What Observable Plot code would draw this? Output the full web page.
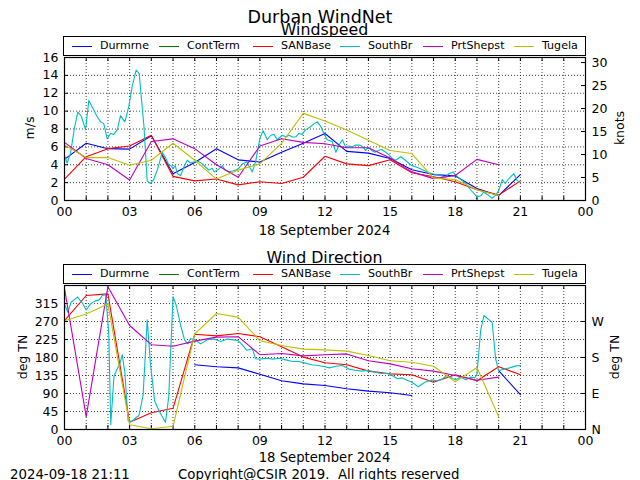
<!DOCTYPE html>
<html><head><meta charset="utf-8">
<script src="https://cdn.jsdelivr.net/npm/d3@7"></script>
<script src="https://cdn.jsdelivr.net/npm/@observablehq/plot@0.6"></script>
<style>
body{margin:0;background:#fff;font-family:"DejaVu Sans",sans-serif;}
#fig{position:relative;width:640px;height:480px;overflow:hidden;background:#fff;}
.abs{position:absolute;white-space:nowrap;color:#000;line-height:1;}
.title{font-size:15.8px;transform:translateX(-50%);}
.lab{font-size:12.5px;}
.rot{transform:translate(-50%,-50%) rotate(-90deg);}
.legend{position:absolute;border:1px solid #000;box-sizing:border-box;background:#fff;}
.lg-h{position:absolute;height:1px;width:20px;}
.lg-t{position:absolute;font-size:11.1px;line-height:1;white-space:nowrap;}
#fig svg{position:absolute;left:0;}
</style></head><body><div id="fig"></div><script>
// ---------- data ----------
const stations = ["Durmrne","ContTerm","SANBase","SouthBr","PrtShepst","Tugela"];
const stationColors = ["#0000ff","#008000","#ff0000","#00bfbf","#bf00bf","#bfbf00"];
const hourTicks = [0,3,6,9,12,15,18,21,24];
const hourTickLabels = ["00","03","06","09","12","15","18","21","00"];
const hourMinor = [0,1,2,3,4,5,6,7,8,9,10,11,12,13,14,15,16,17,18,19,20,21,22,23,24];
const speedTicks = [0,2,4,6,8,10,12,14,16];
const knotTicks = [0,5,10,15,20,25,30];
const dirTicks = [0,45,90,135,180,225,270,315];
const compassTicks = [0,90,180,270];
const compassLabels = ["N","E","S","W"];
const dateLabel = "18 September 2024";

// hourly readings (hour of day)
const hours = [0,1,2,3,4,5,6,7,8,9,10,11,12,13,14,15,16,17,18,19,20,21];
const durmrneSpeed = [4.6,6.4,5.8,5.75,7.25,3.0,4.25,5.8,4.55,4.3,5.4,6.4,7.5,5.5,5.3,4.7,3.45,2.9,2.75,1.35,0.55,2.9];
const contTermSpeed = [];
const sanBaseSpeed = [2.4,4.9,5.8,6.1,7.3,2.7,2.2,2.4,1.75,2.1,1.9,2.6,4.95,4.1,3.9,4.55,3.1,2.65,2.1,1.2,0.6,2.2];
const prtShepstSpeed = [6.5,4.7,4.0,2.3,6.6,6.9,5.8,4.0,2.6,6.1,6.9,6.5,6.35,5.9,5.9,4.75,3.2,2.45,2.8,4.6,4.0,null];
const tugelaSpeed = [6.2,4.8,4.8,3.95,4.5,6.4,4.5,2.4,3.4,4.1,6.4,9.75,8.9,7.9,6.75,5.6,5.25,2.5,2.35,1.2,0.55,null];

const durmrneDir = [null,null,null,null,null,null,162,157,154,138,122,114,110,102,96,92,85,null,null,null,147,87];
const contTermDir = [];
const sanBaseDir = [272,335,339,18,42,53,238,234,240,232,207,181,167,162,146,139,137,118,137,122,157,137];
const prtShepstDir = [352,32,357,260,212,208,221,231,232,187,190,184,187,189,172,164,152,146,135,123,131,null];
const tugelaDir = [272,289,314,12,2,8,239,290,281,222,210,201,199,196,185,172,168,158,119,155,32,null];

// SouthBr sub-hourly readings
const southBrSpeedTime = [0.0,0.12,0.28,0.45,0.61,0.78,0.97,1.12,1.27,1.5,1.66,1.81,1.97,2.12,2.27,2.43,2.58,2.78,2.96,3.12,3.3,3.44,3.66,3.81,3.96,4.12,4.27,4.38,4.5,4.65,4.8,4.9,5.0,5.1,5.2,5.35,5.5,5.65,5.8,5.95,6.15,6.35,6.5,6.65,6.8,6.9,7.1,7.27,7.4,7.57,7.75,7.9,8.0,8.2,8.4,8.65,8.8,9.0,9.15,9.34,9.5,9.65,9.8,10.03,10.2,10.35,10.5,10.65,10.8,10.95,11.1,11.3,11.5,11.65,11.8,11.95,12.1,12.33,12.5,12.65,12.8,12.95,13.1,13.26,13.4,13.6,13.75,13.87,14.0,14.15,14.3,14.45,14.6,14.8,14.95,15.1,15.25,15.5,15.7,16.0,16.2,16.4,16.7,16.95,17.25,17.55,17.7,17.9,18.0,18.2,18.5,18.6,18.8,19.0,19.2,19.3,19.55,19.7,19.85,20.0,20.17,20.3,20.45,20.7,20.85,21.0];
const southBrSpeed = [5.0,4.2,5.3,8.0,9.9,9.4,7.9,11.2,10.5,9.4,8.8,8.6,6.9,7.5,7.4,7.9,9.5,8.8,10.5,12.8,14.6,14.2,8.3,2.2,1.9,2.4,3.4,4.3,5.4,4.8,4.0,3.9,3.6,3.9,3.0,2.8,3.75,4.5,4.2,4.3,4.4,4.1,3.75,3.4,3.6,3.2,3.5,3.9,3.4,3.2,3.3,3.4,3.55,4.1,4.3,3.2,4.3,6.95,7.8,6.8,7.3,7.4,6.8,7.3,7.1,7.3,7.1,7.1,7.5,7.4,7.9,8.2,8.6,8.8,8.3,7.5,6.8,6.6,5.4,6.2,6.8,6.0,6.1,6.0,6.2,6.2,6.0,5.6,5.95,5.6,5.4,5.6,5.7,5.4,5.1,4.7,4.5,4.9,4.5,3.9,3.75,3.55,3.2,3.0,2.85,2.6,3.0,3.2,2.9,2.45,1.9,1.5,0.95,0.4,0.55,0.95,0.55,0.25,0.55,1.1,2.35,1.9,2.4,3.0,2.25,2.0];
const southBrDirTime = [0.0,0.15,0.3,0.6,0.8,1.0,1.2,1.4,1.6,1.74,1.9,2.04,2.13,2.28,2.43,2.55,2.66,2.78,2.93,3.1,3.3,3.43,3.62,3.81,3.96,4.15,4.35,4.65,4.8,5.0,5.15,5.35,5.53,5.68,5.8,6.0,6.27,6.6,6.9,7.2,7.5,7.8,8.0,8.2,8.4,8.65,8.8,9.0,9.3,9.6,9.9,10.2,10.5,10.8,11.1,11.4,11.7,12.0,12.2,12.5,12.8,13.1,13.4,13.7,14.0,14.3,14.6,14.9,15.1,15.33,15.55,15.7,16.0,16.3,16.6,16.9,17.15,17.4,17.6,17.85,18.0,18.25,18.5,18.7,18.9,19.0,19.17,19.32,19.7,19.86,20.0,20.17,20.5,20.8,21.0];
const southBrDir = [314,293,318,331,318,299,314,321,324,335,337,239,12,133,152,164,187,143,22,20,30,35,85,274,164,72,47,18,81,332,310,260,224,214,227,225,214,225,226,220,226,224,222,211,198,202,177,176,178,176,178,174,170,170,166,162,160,157,154,158,160,151,148,146,148,143,140,140,135,127,129,125,118,107,118,124,122,126,135,129,124,131,124,131,129,139,247,285,268,177,146,150,154,159,160];

// ---------- build tables ----------
const KN = 1.943844;
function rows(times, vals, name){
  return vals.map((v,i)=>({t:times[i], v:(v==null?NaN:v), s:name}));
}
const speedRows = [
  ...rows(hours, durmrneSpeed, "Durmrne"),
  ...rows(hours, contTermSpeed, "ContTerm"),
  ...rows(hours, sanBaseSpeed, "SANBase"),
  ...rows(southBrSpeedTime, southBrSpeed, "SouthBr"),
  ...rows(hours, prtShepstSpeed, "PrtShepst"),
  ...rows(hours, tugelaSpeed, "Tugela")
];
const dirRows = [
  ...rows(hours, durmrneDir, "Durmrne"),
  ...rows(hours, contTermDir, "ContTerm"),
  ...rows(hours, sanBaseDir, "SANBase"),
  ...rows(southBrDirTime, southBrDir, "SouthBr"),
  ...rows(hours, prtShepstDir, "PrtShepst"),
  ...rows(hours, tugelaDir, "Tugela")
];

const fig = document.getElementById("fig");
const pad2 = (d,i) => hourTickLabels[hourTicks.indexOf(d)];

function panel({top, height, mt, mb, yDomain, yTicks, rightTicks, rightFormat, data}){
  const fh = height - mt - mb;
  const fw = 640 - 64 - 55;
  const chart = Plot.plot({
    width: 640, height, marginTop: mt, marginBottom: mb, marginLeft: 64, marginRight: 55,
    style: {fontFamily: "DejaVu Sans", fontSize: "12.5px", background: "transparent", color: "#000"},
    x: {domain: [0, 24]},
    y: {domain: yDomain},
    color: {domain: stations, range: stationColors},
    marks: [
      Plot.gridX(hourMinor, {stroke: "#000", strokeOpacity: 0.9, strokeDasharray: "1,2", strokeWidth: 0.8}),
      Plot.gridY(yTicks, {stroke: "#000", strokeOpacity: 0.9, strokeDasharray: "1,2", strokeWidth: 0.8}),
      Plot.tickX(hourMinor, {x: d => d, insetTop: fh - 4, stroke: "#000"}),
      Plot.tickX(hourMinor, {x: d => d, insetBottom: fh - 4, stroke: "#000"}),
      Plot.tickY(yTicks, {y: d => d, insetRight: fw - 4, stroke: "#000"}),
      Plot.tickY(rightTicks, {y: d => d, insetLeft: fw - 4, stroke: "#000"}),
      Plot.axisX(hourTicks, {tickSize: 0, tickPadding: 7, tickFormat: pad2, label: null}),
      Plot.axisY(yTicks, {tickSize: 0, tickPadding: 6, label: null}),
      Plot.axisY(rightTicks, {anchor: "right", tickSize: 0, tickPadding: 6, tickFormat: rightFormat, label: null}),
      Plot.line(data, {x: "t", y: "v", z: "s", stroke: "s", strokeWidth: 1.1}),
      Plot.frame({stroke: "#000", strokeWidth: 1.2})
    ]
  });
  chart.style.top = top + "px";
  fig.appendChild(chart);
}

panel({top: 0, height: 240, mt: 57, mb: 40, yDomain: [0, 16], yTicks: speedTicks,
  rightTicks: knotTicks.map(k => k / KN), rightFormat: d => String(Math.round(d * KN)), data: speedRows});
panel({top: 240, height: 240, mt: 45, mb: 51, yDomain: [0, 360], yTicks: dirTicks,
  rightTicks: compassTicks, rightFormat: d => compassLabels[compassTicks.indexOf(d)], data: dirRows});

// ---------- text & legends ----------
function txt(s, cls, left, top, extra){
  const d = document.createElement("div");
  d.className = "abs " + cls;
  d.textContent = s;
  d.style.left = left + "px"; d.style.top = top + "px";
  if (extra) Object.assign(d.style, extra);
  fig.appendChild(d);
  return d;
}
txt("Durban WindNet", "title", 320, 9, {fontSize: "17.5px"});
txt("Windspeed", "title", 324.5, 22);
txt("Wind Direction", "title", 324.5, 250);
txt(dateLabel, "lab", 324.5, 224, {transform: "translateX(-50%)", fontSize: "13.2px"});
txt(dateLabel, "lab", 324.5, 451, {transform: "translateX(-50%)", fontSize: "13.2px"});
txt("m/s", "lab rot", 30, 128);
txt("knots", "lab rot", 620, 128);
txt("deg TN", "lab rot", 23, 357);
txt("deg TN", "lab rot", 615, 357);
txt("2024-09-18 21:11", "lab", 10, 468, {fontSize: "13.3px"});
txt("Copyright@CSIR 2019.  All rights reserved", "lab", 178, 468, {fontSize: "13.3px", whiteSpace: "pre"});

const legendTextX = [99, 186, 280, 367, 450, 541];
function legend(top){
  const box = document.createElement("div");
  box.className = "legend";
  Object.assign(box.style, {left: "63px", top: top + "px", width: "523px", height: "20px"});
  fig.appendChild(box);
  stations.forEach((s, i) => {
    const h = document.createElement("div");
    h.className = "lg-h";
    Object.assign(h.style, {left: (legendTextX[i] - 28 - 63) + "px", top: "9px", background: stationColors[i]});
    box.appendChild(h);
    const t = document.createElement("div");
    t.className = "lg-t";
    t.textContent = s;
    Object.assign(t.style, {left: (legendTextX[i] - 63) + "px", top: "3px"});
    box.appendChild(t);
  });
}
legend(36);
legend(264);
</script></body></html>
